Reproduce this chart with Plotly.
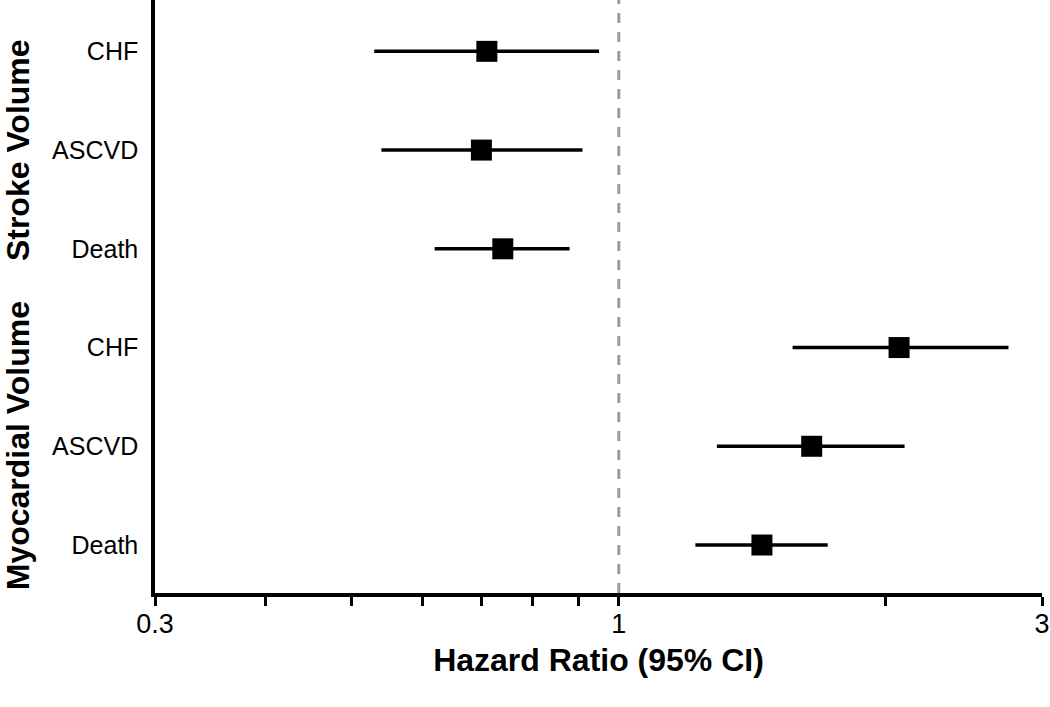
import math
import plotly.graph_objects as go

# ---- data ----
outcomes = ["CHF", "ASCVD", "Death", "CHF", "ASCVD", "Death"]
groups = ["Stroke Volume", "Stroke Volume", "Stroke Volume",
          "Myocardial Volume", "Myocardial Volume", "Myocardial Volume"]
row_pos = [6, 5, 4, 3, 2, 1]
hr = [0.71, 0.70, 0.74, 2.07, 1.65, 1.45]
ci_low = [0.53, 0.54, 0.62, 1.57, 1.29, 1.22]
ci_high = [0.95, 0.91, 0.88, 2.75, 2.10, 1.72]

group_names = ["Stroke Volume", "Myocardial Volume"]
group_centers = [5, 2]

x_tickvals = [0.3, 0.4, 0.5, 0.6, 0.7, 0.8, 0.9, 1, 2, 3]
x_ticktext = ["0.3", "", "", "", "", "", "", "1", "", "3"]
ref_hr = 1

plus = [h2 - h for h, h2 in zip(hr, ci_high)]
minus = [h - l for h, l in zip(hr, ci_low)]

REG = "Liberation Sans, Arial, sans-serif"

fig = go.Figure()
fig.add_trace(go.Scatter(
    x=hr, y=row_pos, mode="markers",
    marker=dict(symbol="square", size=21, color="black", line=dict(width=0)),
    error_x=dict(type="data", array=plus, arrayminus=minus, symmetric=False,
                 thickness=3.5, width=0, color="black"),
    showlegend=False,
))

fig.add_vline(x=ref_hr, line=dict(color="#9a9a9a", width=3, dash="10px,9px"), layer="below")

for name, c in zip(group_names, group_centers):
    fig.add_annotation(text="<b>%s</b>" % name, xref="paper", yref="y",
                       x=0, y=c, xanchor="center", yanchor="middle",
                       xshift=-137, textangle=-90, showarrow=False,
                       font=dict(family=REG, size=32, color="black"))

fig.update_layout(
    width=1050, height=707,
    margin=dict(l=155, r=8, t=0, b=114, autoexpand=False),
    plot_bgcolor="white", paper_bgcolor="white",
    xaxis=dict(type="log", range=[math.log10(0.3), math.log10(3)],
               tickvals=x_tickvals, ticktext=x_ticktext, automargin=False,
               ticks="outside", ticklen=9, tickwidth=3, tickcolor="black",
               showline=True, linecolor="black", linewidth=3.5,
               showgrid=False, zeroline=False, ticklabelstandoff=-5,
               tickfont=dict(family=REG, size=27, color="black"),
               title=dict(text="<b>Hazard Ratio (95% CI)</b>", standoff=11,
                          font=dict(family=REG, size=32, color="black"))),
    yaxis=dict(range=[0.514, 6.52], tickvals=row_pos, ticktext=outcomes,
               ticks="", showline=True, linecolor="black", linewidth=3.5,
               showgrid=False, zeroline=False, ticklabelstandoff=8,
               automargin=False,
               tickfont=dict(family=REG, size=25, color="black")),
)

fig.write_html("out.html", config={"displayModeBar": False},
               post_script="document.body.style.margin='0';document.body.style.overflow='hidden';")
